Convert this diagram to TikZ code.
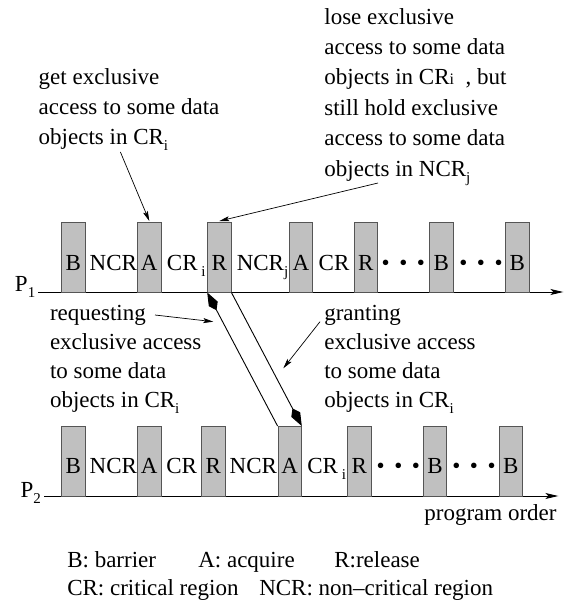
\documentclass[tikz,border=0pt]{standalone}
\usepackage{fontspec}
\setmainfont{Liberation Serif}
\newfontfamily\tnrfont{Liberation Serif}
\usetikzlibrary{arrows.meta,calc}
\definecolor{boxgray}{RGB}{192,192,192}
\definecolor{boxedge}{RGB}{85,85,85}
\newcommand{\mysub}[1]{\raisebox{-6pt}{\fontsize{15}{15}\selectfont #1}}
\newcommand{\mydots}{\textbullet\hspace{9.5pt}\textbullet\hspace{9.5pt}\textbullet}
\begin{document}
\begin{tikzpicture}[x=1pt,y=-1pt,
  txt/.style={font=\tnrfont\fontsize{23}{30}\selectfont, inner sep=0pt, outer sep=0pt},
  blk/.style={draw=boxedge, fill=boxgray, line width=0.9pt, minimum width=23.3pt, minimum height=69.5pt, inner sep=0pt},
  lbl/.style={txt, anchor=base},
  blocktxt/.style={txt, align=left, anchor=north west},
  axisline/.style={line width=0.9pt, -{Stealth[length=13pt,width=6pt,inset=3pt]}},
  note/.style={line width=0.7pt, -{Stealth[length=10pt,width=5pt,inset=2pt]}},
  msgline/.style={line width=0.9pt},
  kitehead/.tip={Kite[length=20pt,width=10pt,inset=7pt]}]
\useasboundingbox (0,0) rectangle (567,606);

% axes
\coordinate (p1start) at (38,292);
\coordinate (p1end) at (563.3,292);
\coordinate (p2start) at (44.3,496);
\coordinate (p2end) at (558.3,496);
\draw[axisline] (p1start) -- (p1end);
\draw[axisline] (p2start) -- (p2end);
\node[txt, anchor=base west] (p1name) at (15,291.7) {P\mysub{1}};
\node[txt, anchor=base west] (p2name) at (20.7,497.5) {P\mysub{2}};
\node[txt, anchor=base] (porder) at (490.5,520) {program order};

% P1 boxes
\foreach \x/\n/\t in {73.3/b1/B, 149.3/a1/A, 219.3/r1/R, 301/a2/A, 365.7/r2/R, 441.3/b2/B, 517.3/b3/B}{
  \node[blk] (p1\n) at (\x,257.25) {};
  \node[lbl] (p1\n-lab) at ($(p1\n.south)+(0,-22)$) {\t};
}
% P2 boxes
\foreach \x/\n/\t in {73.3/b1/B, 149.3/a1/A, 213.3/r1/R, 289.7/a2/A, 359.3/r2/R, 435/b2/B, 510.7/b3/B}{
  \node[blk] (p2\n) at (\x,461.25) {};
  \node[lbl] (p2\n-lab) at ($(p2\n.south)+(0,-23)$) {\t};
}

% P1 gap labels
\node[lbl] (p1g1) at (113.3,270) {NCR};
\node[lbl] (p1g2) at (186.3,270) {CR\,\mysub{i}};
\node[lbl] (p1g3) at (262.5,270) {NCR\mysub{j}};
\node[lbl] (p1g4) at (334,270) {CR};
\node[lbl] (p1g5) at (403.3,270) {\mydots};
\node[lbl] (p1g6) at (481,270) {\mydots};
% P2 gap labels
\node[lbl] (p2g1) at (113.3,473) {NCR};
\node[lbl] (p2g2) at (181.7,473) {CR};
\node[lbl] (p2g3) at (253.3,473) {NCR};
\node[lbl] (p2g4) at (326.7,473) {CR\,\mysub{i}};
\node[lbl] (p2g5) at (398.3,473) {\mydots};
\node[lbl] (p2g6) at (474,473) {\mydots};

% message lines
\draw[msgline, {kitehead}-] (p1r1.south west) -- (p2a2.north west);
\draw[msgline, -{kitehead}] (p1r1.south east) -- (p2a2.north east);

% annotations
\node[blocktxt] (getblk) at (38.7,68) {\rule{0pt}{16pt}get exclusive\\access to some data\\objects in CR\mysub{i}};
\node[blocktxt, font=\tnrfont\fontsize{23}{30.4}\selectfont] (loseblk) at (324.4,8) {\rule{0pt}{16pt}lose exclusive\\access to some data\\objects in CR{\fontsize{16}{16}\selectfont i}\ \ , but\\still hold exclusive\\access to some data\\objects in NCR\mysub{j}};
\node[blocktxt, font=\tnrfont\fontsize{23}{29.2}\selectfont] (reqblk) at (50,304) {\rule{0pt}{16pt}requesting\\exclusive access\\to some data\\objects in CR\mysub{i}};
\node[blocktxt, font=\tnrfont\fontsize{23}{29.2}\selectfont] (grantblk) at (324.3,304) {\rule{0pt}{16pt}granting\\exclusive access\\to some data\\objects in CR\mysub{i}};

\coordinate (getfrom) at (120.4,152);
\coordinate (losefrom) at (378,183);
\coordinate (reqfrom) at (155,315);
\coordinate (reqto) at (213.3,321.7);
\coordinate (grantfrom) at (320,321.7);
\coordinate (grantto) at (283.3,368.3);
\draw[note] (getfrom) -- ($(p1a1.north)+(0,-1)$);
\draw[note] (losefrom) -- ($(p1r1.north)+(0,-1)$);
\draw[note] (reqfrom) -- (reqto);
\draw[note] (grantfrom) -- (grantto);

% legend
\node[txt, anchor=base west] (legb) at (67.3,567.7) {B: barrier};
\node[txt, anchor=base west] (lega) at (198.3,567.7) {A: acquire};
\node[txt, anchor=base west] (legr) at (334.3,567.7) {R:release};
\node[txt, anchor=base west] (legcr) at (67.3,595) {CR: critical region};
\node[txt, anchor=base west] (legncr) at (259.3,595) {NCR: non\textendash critical region};
\end{tikzpicture}
\end{document}
